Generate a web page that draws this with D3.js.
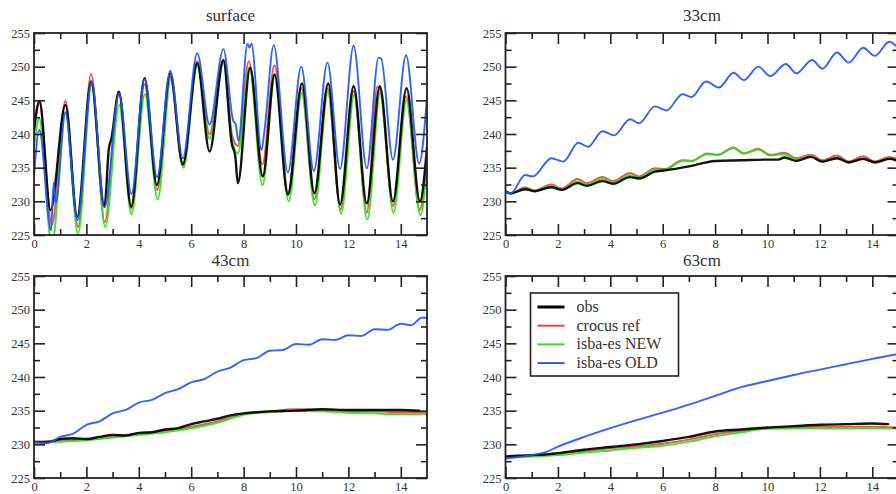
<!DOCTYPE html>
<html>
<head>
<meta charset="utf-8">
<script src="https://cdn.jsdelivr.net/npm/d3@7"></script>
<style>
html,body{margin:0;padding:0;background:#fff;overflow:hidden;}
svg{display:block;font-family:"Liberation Serif","Times New Roman",serif;}
</style>
</head>
<body>
<svg id="chart" width="896" height="494"></svg>
<script>
// ---------- data ----------
const titles = ["surface", "33cm", "43cm", "63cm"];
const seriesNames = ["obs", "crocus ref", "isba-es NEW", "isba-es OLD"];
const xTickValues = [0, 2, 4, 6, 8, 10, 12, 14];
const yTickValues = [225, 230, 235, 240, 245, 250, 255];
const xDomain = [0, 15];
const yDomain = [225, 255];

// surface  [day, temperature K]
const surfObs = [[0,240.5],[0.21,244.9],[0.63,228.7],[1.2,244.3],[1.65,227.7],[2.18,247.8],[2.69,229.2],[2.86,237.9],[2.95,239.2],[3.24,246.3],[3.71,229.2],[4.22,248.3],[4.69,232.4],[5.2,249.0],[5.68,235.5],[6.23,250.5],[6.7,237.4],[7.23,251],[7.55,238.5],[7.68,236.8],[7.78,232.7],[8.25,249.8],[8.73,233.7],[9.18,248.8],[9.69,231],[10.23,247.5],[10.7,231.2],[11.23,247.5],[11.68,229.5],[12.2,247.1],[12.7,229.7],[13.2,247.1],[13.7,230],[14.22,246.8],[14.73,230],[15,238]];
const surfRef = [[0,241],[0.2,244.6],[0.68,226.5],[1.2,244.9],[1.68,226.2],[2.18,248.9],[2.7,226.9],[3.24,245.9],[3.72,229],[4.22,247.4],[4.7,231.7],[5.2,248.5],[5.68,235.3],[6.23,250.8],[6.7,240],[7.23,251],[7.55,240],[7.78,238.2],[8.2,250.8],[8.72,235.5],[9.18,250.2],[9.7,231.3],[10.2,246.8],[10.7,230.3],[11.2,246.8],[11.7,228.8],[12.2,246.4],[12.7,228.3],[13.1,247],[13.22,246.5],[13.7,229.3],[14.2,245.6],[14.72,228.7],[15,236]];
const surfNew = [[0,238],[0.2,242.3],[0.68,223.5],[1.2,243.2],[1.68,225.2],[2.2,247.3],[2.72,226.2],[3.25,244.3],[3.72,228.1],[4.23,245.9],[4.72,230.3],[5.22,248.1],[5.7,235],[6.23,250.1],[6.7,239.3],[7.23,250.5],[7.55,239.2],[7.78,237.1],[8.22,249.9],[8.72,232.4],[9.2,248.9],[9.72,230],[10.22,246.1],[10.72,229.4],[11.22,246.3],[11.72,228.2],[12.22,245.8],[12.72,227.3],[13.22,246.2],[13.72,228.3],[14.22,245],[14.75,227.9],[15,235.5]];
const surfOld = [[0,233.7],[0.2,240.6],[0.65,225.7],[0.75,232.8],[0.83,229.8],[1.2,243.2],[1.66,227.2],[2.2,247.8],[2.69,229.1],[3.25,246],[3.72,231.1],[4.22,248.1],[4.7,233.6],[5.2,249.4],[5.68,236.4],[6.23,252],[6.7,241.4],[7.23,252.6],[7.6,242],[7.7,241.4],[7.8,239],[8.15,253.4],[8.22,252.8],[8.3,253.4],[8.68,237.6],[8.8,240.6],[9.15,253.2],[9.69,234.3],[10.2,250],[10.68,234.5],[11.2,250.6],[11.68,234.8],[12.2,253.1],[12.7,234.9],[13.15,251.3],[13.25,251.2],[13.7,236.2],[14.2,251.7],[14.7,235.6],[15,245.5]];

// 33cm
const d33Obs = [[0,231.5],[0.2,231.2],[0.75,231.8],[1.1,231.5],[1.75,232.1],[2.15,231.7],[2.75,232.7],[3.1,232.3],[3.7,233],[4.1,232.6],[4.75,233.6],[5.1,233.4],[5.7,234.4],[6.1,234.6],[7,235.2],[8,236],[9,236.1],[10,236.2],[10.4,236.2],[10.65,236.5],[11.1,236],[11.65,236.6],[12.1,235.9],[12.65,236.4],[13.1,235.8],[13.65,236.3],[14.1,235.8],[14.65,236.3],[15,236]];
const d33Ref = [[0,231.5],[0.2,231.2],[0.75,232.1],[1.1,231.6],[1.75,232.5],[2.15,231.9],[2.75,233.3],[3.1,232.7],[3.7,233.6],[4.1,233],[4.75,234.2],[5.1,233.7],[5.7,234.9],[6.1,234.8],[6.75,236.1],[7.1,236],[7.7,237.1],[8.1,236.9],[8.7,238],[9.1,237.1],[9.65,237.8],[10.1,236.9],[10.65,237.2],[11.1,236.4],[11.65,236.9],[12.1,236.1],[12.65,236.8],[13.1,235.9],[13.65,236.7],[14.1,235.9],[14.65,236.6],[15,236.2]];
const d33New = [[0,231.4],[0.2,231.1],[0.75,231.9],[1.1,231.5],[1.75,232.3],[2.15,231.7],[2.75,233],[3.1,232.5],[3.7,233.3],[4.1,232.8],[4.75,233.9],[5.1,233.5],[5.7,234.7],[6.1,234.7],[6.75,236],[7.1,236],[7.7,237],[8.1,236.9],[8.7,237.9],[9.1,237.1],[9.65,237.7],[10.1,236.8],[10.65,237],[11.1,236.2],[11.65,236.7],[12.1,235.9],[12.65,236.5],[13.1,235.7],[13.65,236.4],[14.1,235.7],[14.65,236.4],[15,235.9]];
const d33Old = [[0,231.4],[0.2,231.2],[0.75,233.9],[1.05,233.7],[1.75,236.4],[2.2,235.9],[2.78,238.7],[3.15,238.1],[3.7,240.4],[4.15,239.8],[4.75,242.2],[5.1,241.6],[5.7,244.1],[6.15,243.5],[6.75,245.9],[7.1,245.5],[7.65,247.8],[8.15,246.9],[8.7,249.1],[9.1,248],[9.65,250],[10.1,248.6],[10.7,250.4],[11.1,249],[11.7,251],[12.1,249.7],[12.65,252.1],[13.1,250.6],[13.65,252.8],[14.1,251.6],[14.65,253.7],[15,252.7]];

// 43cm
const d43Obs = [[0,230.4],[0.5,230.3],[1,230.8],[1.5,230.9],[2,230.8],[2.5,231.1],[3,231.4],[3.5,231.3],[4,231.7],[4.5,231.8],[5,232.2],[5.5,232.4],[6,233],[6.5,233.4],[7,233.8],[7.5,234.3],[8,234.6],[9,234.9],[10,235],[11,235.2],[12,235.1],[13,235.1],[14,235.1],[14.7,235]];
const d43Ref = [[0,230.3],[1,230.6],[2,230.7],[3,231.2],[4,231.6],[5,232],[6,232.6],[7,233.4],[8,234.5],[9,234.9],[10,235.2],[11,235.1],[12,234.9],[13,234.9],[14,234.8],[15,234.8]];
const d43New = [[0,230.2],[1,230.4],[2,230.6],[3,231],[4,231.4],[5,231.8],[6,232.4],[7,233.2],[8,234.4],[9,234.8],[10,235],[11,234.9],[12,234.7],[13,234.6],[14,234.5],[15,234.5]];
const d43Old = [[0,230.3],[0.5,230.2],[1,231.1],[1.5,231.6],[2,232.9],[2.5,233.4],[3,234.6],[3.5,235.1],[4,236.2],[4.5,236.6],[5,237.6],[5.5,238.2],[6,239.2],[6.5,239.7],[7,240.8],[7.5,241.4],[8,242.5],[8.5,242.8],[9,243.9],[9.5,244],[10,244.9],[10.5,244.8],[11,245.6],[11.5,245.5],[12,246.2],[12.5,246.1],[13,247.1],[13.5,247],[14,247.9],[14.4,247.7],[14.8,248.8],[15,248.8]];

// 63cm
const d63Obs = [[0,228.2],[1,228.4],[1.5,228.5],[2,228.7],[3,229.2],[4,229.6],[5,230],[6,230.5],[7,231.1],[8,231.9],[9,232.2],[10,232.5],[11,232.7],[12,232.9],[13,233],[14,233.1],[14.6,233]];
const d63Ref = [[0,228.1],[1,228.3],[2,228.6],[3,229],[4,229.4],[5,229.7],[6,230.1],[7,230.7],[8,231.5],[9,232],[10,232.4],[11,232.5],[12,232.6],[13,232.6],[14,232.6],[15,232.5]];
const d63New = [[0,228],[1,228.2],[2,228.4],[3,228.8],[4,229.1],[5,229.5],[6,229.8],[7,230.4],[8,231.2],[9,231.8],[10,232.3],[11,232.4],[12,232.4],[13,232.4],[14,232.4],[15,232.4]];
const d63Old = [[0,227.9],[1,228.4],[1.5,228.8],[2,229.65],[3,231.1],[4,232.4],[5,233.6],[6,234.7],[7,235.9],[8,237.2],[9,238.5],[10,239.4],[11,240.3],[12,241.1],[13,241.9],[14,242.7],[15,243.4]];

// ---------- styling / layout ----------
const colors = {obs:"#000000", ref:"#ee4444", nw:"#33dd22", old:"#2255ff"};
const widths = {obs:2.4, ref:2.0, nw:2.0, old:1.9};
const panelW = 393, panelH = 202;
const panels = [
  {title:titles[0], left:34,    top:33,  titleY:-12, data:{obs:surfObs, ref:surfRef, nw:surfNew, old:surfOld}},
  {title:titles[1], left:505.5, top:33,  titleY:-12, data:{obs:d33Obs, ref:d33Ref, nw:d33New, old:d33Old}},
  {title:titles[2], left:34,    top:276, titleY:-10, data:{obs:d43Obs, ref:d43Ref, nw:d43New, old:d43Old}},
  {title:titles[3], left:505.5, top:276, titleY:-10, data:{obs:d63Obs, ref:d63Ref, nw:d63New, old:d63Old}, legend:true}
];
const drawOrder = ["ref","nw","obs","old"];
const frameColor = "#222";
const labelColor = "#333";
const fontFam = '"Liberation Serif","Times New Roman",serif';

const svg = d3.select("#chart");
const defs = svg.append("defs");

panels.forEach((p, i) => {
  const x = d3.scaleLinear().domain(xDomain).range([0, panelW]);
  const y = d3.scaleLinear().domain(yDomain).range([panelH, 0]);
  const g = svg.append("g").attr("transform", `translate(${p.left},${p.top})`);

  defs.append("clipPath").attr("id", "clip" + i)
    .append("rect").attr("x", 0).attr("y", 0).attr("width", panelW).attr("height", panelH);

  // lines
  const line = d3.line().x(d => x(d[0])).y(d => y(d[1])).curve(d3.curveMonotoneX);
  const lg = g.append("g").attr("clip-path", `url(#clip${i})`);
  drawOrder.forEach(k => {
    lg.append("path").datum(p.data[k])
      .attr("fill", "none")
      .attr("stroke", colors[k])
      .attr("stroke-width", widths[k])
      .attr("stroke-linejoin", "round")
      .attr("stroke-linecap", "round")
      .attr("opacity", 0.92)
      .attr("d", line);
  });

  // axes with inward ticks
  const styleAxis = sel => {
    sel.attr("font-family", fontFam).attr("font-size", 12.5);
    sel.select(".domain").remove();
    sel.selectAll(".tick line").attr("stroke", frameColor).attr("stroke-width", 1.6);
    sel.selectAll(".tick text").attr("fill", labelColor);
  };
  const minorX = d3.range(1, 15, 2);
  const minorY = d3.range(227.5, 255, 5);

  g.append("g").attr("transform", `translate(0,${panelH})`)
    .call(d3.axisBottom(x).tickValues(xTickValues).tickSizeInner(-11).tickSizeOuter(0).tickPadding(4).tickFormat(d3.format("d")))
    .call(styleAxis);
  g.append("g").attr("transform", `translate(0,${panelH})`)
    .call(d3.axisBottom(x).tickValues(minorX).tickSizeInner(-6).tickSizeOuter(0).tickFormat(""))
    .call(styleAxis);
  g.append("g")
    .call(d3.axisTop(x).tickValues(xTickValues).tickSizeInner(-11).tickSizeOuter(0).tickFormat(""))
    .call(styleAxis);
  g.append("g")
    .call(d3.axisTop(x).tickValues(minorX).tickSizeInner(-6).tickSizeOuter(0).tickFormat(""))
    .call(styleAxis);
  g.append("g")
    .call(d3.axisLeft(y).tickValues(yTickValues).tickSizeInner(-11).tickSizeOuter(0).tickPadding(4).tickFormat(d3.format("d")))
    .call(styleAxis);
  g.append("g")
    .call(d3.axisLeft(y).tickValues(minorY).tickSizeInner(-6).tickSizeOuter(0).tickFormat(""))
    .call(styleAxis);
  g.append("g").attr("transform", `translate(${panelW},0)`)
    .call(d3.axisRight(y).tickValues(yTickValues).tickSizeInner(-11).tickSizeOuter(0).tickFormat(""))
    .call(styleAxis);
  g.append("g").attr("transform", `translate(${panelW},0)`)
    .call(d3.axisRight(y).tickValues(minorY).tickSizeInner(-6).tickSizeOuter(0).tickFormat(""))
    .call(styleAxis);

  // frame
  g.append("rect").attr("x", 0).attr("y", 0).attr("width", panelW).attr("height", panelH)
    .attr("fill", "none").attr("stroke", frameColor).attr("stroke-width", 1.8);

  // title
  g.append("text").attr("x", panelW / 2).attr("y", p.titleY)
    .attr("text-anchor", "middle").attr("fill", labelColor)
    .style("font-size", "17px").text(p.title);

  // legend
  if (p.legend) {
    const keys = ["obs","ref","nw","old"];
    const lgX = 25, lgY = 17, lgW = 148, lgH = 83, rowH = 18.7;
    const leg = g.append("g").attr("transform", `translate(${lgX},${lgY})`);
    leg.append("rect").attr("width", lgW).attr("height", lgH)
      .attr("fill", "#fff").attr("stroke", frameColor).attr("stroke-width", 1.6);
    keys.forEach((k, j) => {
      const yy = 14 + j * rowH;
      leg.append("line").attr("x1", 7).attr("x2", 34).attr("y1", yy).attr("y2", yy)
        .attr("stroke", colors[k]).attr("stroke-width", k === "obs" ? 3 : widths[k]);
      leg.append("text").attr("x", 46).attr("y", yy + 5)
        .attr("fill", labelColor).style("font-size", "16px").text(seriesNames[j]);
    });
  }
});
</script>
</body>
</html>
